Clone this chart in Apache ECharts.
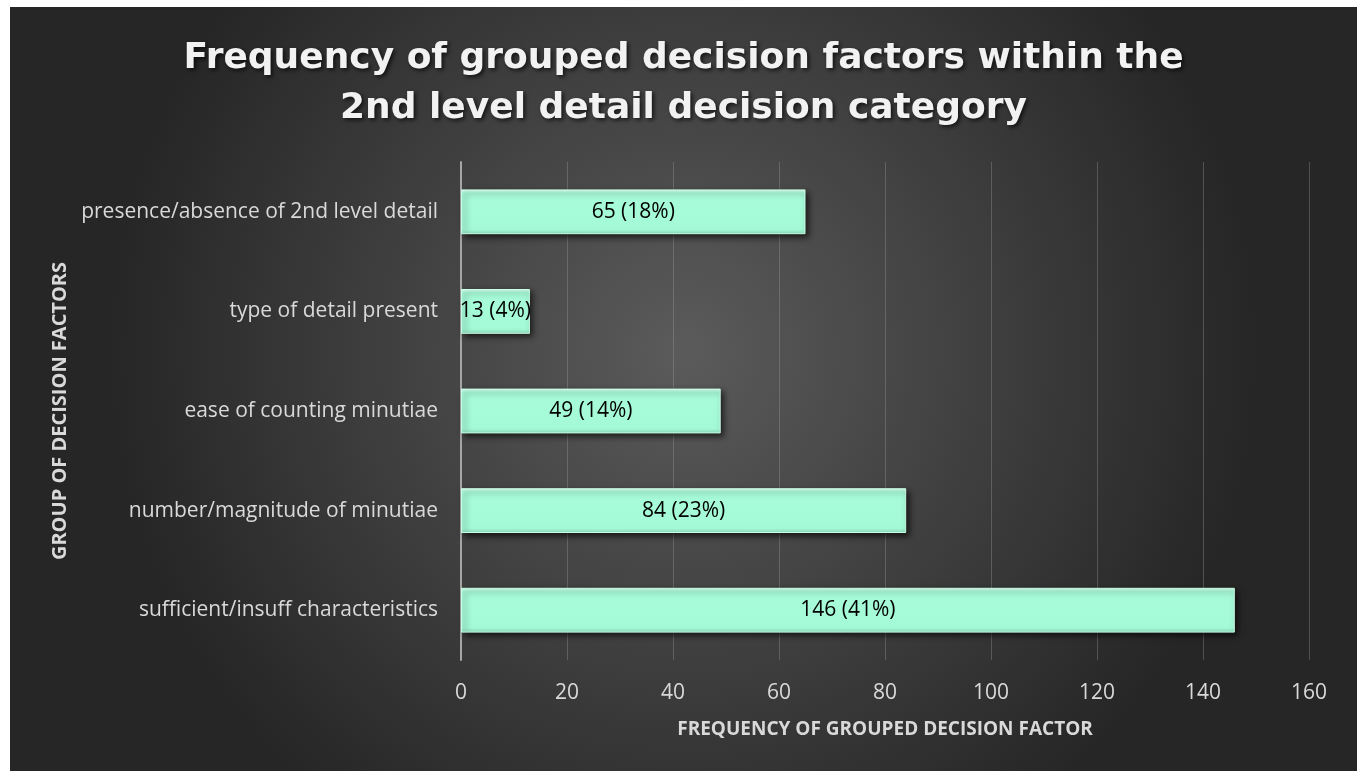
<!DOCTYPE html>
<html>
<head>
<meta charset="utf-8">
<script src="https://cdn.jsdelivr.net/npm/echarts@6/dist/echarts.min.js"></script>
<style>
  html, body { margin: 0; padding: 0; background: #ffffff; }
  #chart { position: absolute; left: 10px; top: 7px; width: 1347px; height: 764px; }
</style>
</head>
<body>
<div id="chart"></div>
<script>
const categories = [
  'sufficient/insuff characteristics',
  'number/magnitude of minutiae',
  'ease of counting minutiae',
  'type of detail present',
  'presence/absence of 2nd level detail'
];
const counts = [146, 84, 49, 13, 65];
const shares = ['41%', '23%', '14%', '4%', '18%'];
const xTicks = [0, 20, 40, 60, 80, 100, 120, 140, 160];
const titleText = 'Frequency of grouped decision factors within the\n2nd level detail decision category';
const xName = 'FREQUENCY OF GROUPED DECISION FACTOR';
const yName = 'GROUP OF DECISION FACTORS';

const chart = echarts.init(document.getElementById('chart'), null, { renderer: 'canvas' });
const labelFont = '"Open Sans", sans-serif';

chart.setOption({
  backgroundColor: {
    type: 'radial', x: 0.5, y: 0.45, r: 0.75,
    colorStops: [
      { offset: 0, color: '#5b5b5b' },
      { offset: 1, color: '#262626' }
    ]
  },
  title: {
    text: titleText,
    left: 'center',
    top: 22,
    textStyle: {
      fontFamily: '"DejaVu Sans", sans-serif',
      fontWeight: 'bold',
      fontSize: 36,
      lineHeight: 50,
      color: '#f2f2f2',
      textShadowColor: 'rgba(0,0,0,0.7)',
      textShadowBlur: 4,
      textShadowOffsetX: 2,
      textShadowOffsetY: 2
    }
  },
  grid: { left: 451, right: 48, top: 155, bottom: 111, containLabel: false },
  xAxis: {
    type: 'value',
    min: 0, max: 160, interval: 20,
    name: xName,
    nameLocation: 'middle',
    nameGap: 60,
    nameTextStyle: { color: '#d9d9d9', fontSize: 19, fontWeight: 'bold', fontFamily: labelFont },
    axisLine: { show: false },
    axisTick: { show: false },
    axisLabel: {
      color: '#d9d9d9', fontSize: 21, fontFamily: labelFont, margin: 23,
      formatter: function (v) { return xTicks.indexOf(v) >= 0 ? String(v) : ''; }
    },
    splitLine: { show: true, lineStyle: { color: 'rgba(160,160,160,0.35)', width: 1 } }
  },
  yAxis: {
    type: 'category',
    data: categories,
    name: yName,
    nameLocation: 'middle',
    nameGap: 390,
    nameRotate: 90,
    nameTextStyle: { color: '#d9d9d9', fontSize: 20, fontWeight: 'bold', fontFamily: labelFont },
    axisLine: { show: true, lineStyle: { color: '#a6a6a6', width: 2 } },
    axisTick: { show: false },
    axisLabel: { color: '#d9d9d9', fontSize: 21, fontFamily: labelFont, margin: 23 },
    splitLine: { show: false }
  },
  series: [{
    type: 'bar',
    data: counts,
    barWidth: '45%',
    itemStyle: {
      color: {
        type: 'linear', x: 0, y: 0, x2: 0, y2: 1,
        colorStops: [
          { offset: 0, color: '#e6fff4' },
          { offset: 0.08, color: '#a8fcd9' },
          { offset: 0.9, color: '#a4fad6' },
          { offset: 1, color: '#8fe0bf' }
        ]
      },
      borderColor: '#c8fde6',
      borderWidth: 1,
      shadowColor: 'rgba(0,0,0,0.65)',
      shadowBlur: 6,
      shadowOffsetX: 3,
      shadowOffsetY: 3
    },
    label: {
      show: true,
      position: 'inside',
      color: '#000000',
      fontSize: 21,
      fontFamily: labelFont,
      formatter: function (p) { return counts[p.dataIndex] + ' (' + shares[p.dataIndex] + ')'; }
    }
  }]
});
</script>
</body>
</html>
